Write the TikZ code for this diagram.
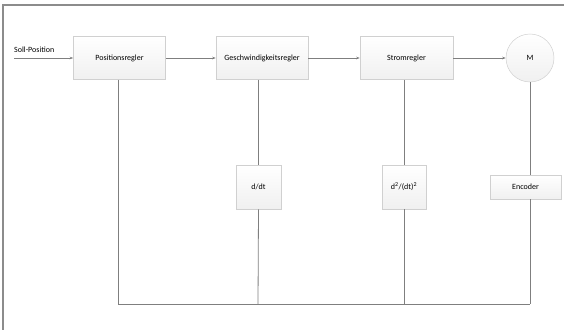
\documentclass[tikz,border=0pt]{standalone}
\usepackage{fontspec}
\setmainfont{Carlito}
\usetikzlibrary{arrows.meta}
\definecolor{linegray}{HTML}{7F7F7F}
\definecolor{boxborder}{HTML}{D0D0D0}
\definecolor{boxtop}{HTML}{FFFFFF}
\definecolor{boxbot}{HTML}{F0F0F0}
\definecolor{framegray}{HTML}{8C8C8C}
\begin{document}
\begin{tikzpicture}[x=1pt,y=-1pt,
  blk/.style={draw=boxborder, line width=0.5pt, top color=boxtop, bottom color=boxbot,
    minimum width=#1, inner sep=0pt, font=\fontsize{8}{9}\selectfont},
  blk/.default=92pt,
  conn/.style={draw=linegray, line width=0.8pt},
  arr/.style={conn, -{Stealth[length=3.5pt,width=2.5pt]}},
  lbl/.style={font=\fontsize{8}{9}\selectfont, inner sep=0pt}]
\useasboundingbox (0,0) rectangle (564,329);
\begin{scope}
\clip (0,0) rectangle (564,329);
\draw[framegray, line width=1.2pt] (3,5) rectangle (700,400);
\end{scope}

\node[blk=92pt, minimum height=43pt] (pos) at (119.5,58) {Positionsregler};
\node[blk=92pt, minimum height=43pt] (gesch) at (262,58) {Geschwindigkeitsregler};
\node[blk=93pt, minimum height=43pt] (strom) at (406.5,58) {Stromregler};
\node[circle, draw=boxborder, line width=0.5pt, top color=boxtop, bottom color=boxbot,
  minimum size=48pt, inner sep=0pt, font=\fontsize{8}{9}\selectfont] (m) at (530,58) {M};

\node[blk=45pt, minimum height=44pt] (ddt) at (258.5,187) {d/dt};
\node[blk=44pt, minimum height=44pt] (dd2) at (404,187) {d\textsuperscript{2}/(dt)\textsuperscript{2}};
\node[blk=71pt, minimum height=24pt] (enc) at (525.5,187) {Encoder};

\node[lbl, anchor=south west] (soll) at (14,53) {Soll-Position};
\coordinate (sollstart) at (14,58);

\coordinate (fbpos) at (118,304);
\coordinate (fbddt) at (258,304);
\coordinate (fbdd2) at (404,304);
\coordinate (fbenc) at (530,304);

\draw[arr] (sollstart) -- (sollstart -| pos.west);
\draw[arr] (pos.east) -- (gesch.west);
\draw[arr] (gesch.east) -- (strom.west);
\draw[arr] (strom.east) -- (strom.east -| m.west);

\draw[conn] (pos.south -| fbpos) -- (fbpos) -- (fbenc);
\draw[conn] (gesch.south -| ddt) -- (ddt.north);
\draw[conn] (ddt.south) -- (fbddt);
\draw[conn] (strom.south -| dd2) -- (dd2.north);
\draw[conn] (dd2.south) -- (fbdd2);
\draw[conn] (m.south) -- (m.south |- enc.north);
\draw[conn] (enc.south -| fbenc) -- (fbenc);
\end{tikzpicture}
\end{document}
